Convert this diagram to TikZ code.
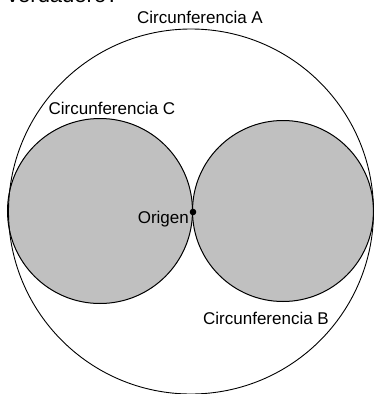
\documentclass[tikz,border=0pt]{standalone}
\usepackage{fontspec}
\setmainfont{Liberation Sans}
\definecolor{fillgray}{RGB}{192,192,192}
\tikzset{
  lbl/.style={font=\fontsize{17}{19}\selectfont, inner sep=0pt},
  smallcirc/.style={draw=black, line width=1pt, fill=fillgray},
  bigcirc/.style={draw=black, line width=0.9pt}
}
\begin{document}
\begin{tikzpicture}[x=1pt,y=-1pt]
\useasboundingbox (0,0) rectangle (375,394);
\begin{scope}
\clip (0,0) rectangle (375,394);
\node[font=\fontsize{22}{24}\selectfont, inner sep=0pt, anchor=base west] (top) at (7,2) {verdadero?};
\path[smallcirc] (100,211) circle[radius=92.5pt];
\path[smallcirc] (283,211) circle[radius=90.5pt];
\path[bigcirc] (191,211.5) circle[radius=182.5pt];
\end{scope}
\node[lbl] (A) at (200,17.5) {Circunferencia A};
\node[lbl] (C) at (112,108.5) {Circunferencia C};
\node[lbl] (B) at (266,318.5) {Circunferencia B};
\fill (193,212) circle[radius=3.3pt];
\coordinate (O) at (193,212);
\node[lbl, anchor=east] (org) at (189,219.5) {Origen};
\end{tikzpicture}
\end{document}
